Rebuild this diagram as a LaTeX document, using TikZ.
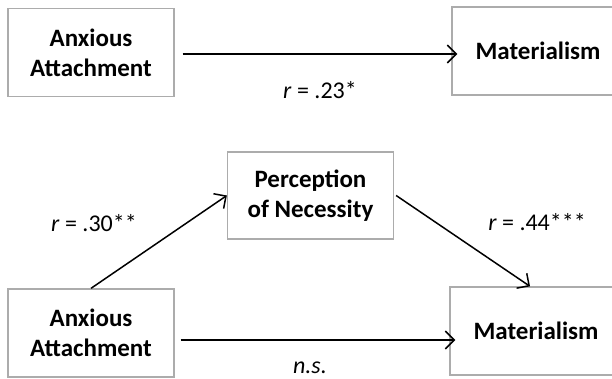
\documentclass[tikz,border=0pt]{standalone}
\usepackage{fontspec}
\setmainfont{Carlito}
\usetikzlibrary{arrows.meta}

\begin{document}
\begin{tikzpicture}[x=1pt, y=-1pt, >={Straight Barb[length=9pt,width=18pt]},
    box/.style={draw=gray!65, line width=1.3pt, minimum width=166pt,
                minimum height=88pt, inner sep=0pt, align=center,
                font=\fontsize{25}{30}\selectfont\bfseries},
    link/.style={->, line width=1.5pt},
    lbl/.style={font=\fontsize{24}{28}\selectfont}]
  \useasboundingbox (0,0) rectangle (612,379);
  % total effect
  \node[box] (anx1) at (91,52.5) {Anxious\\Attachment};
  \node[box, minimum width=172pt] (mat1) at (538,51) {Materialism};
  \draw[link] ([xshift=8pt,yshift=-1.5pt]anx1.east)
      -- ([xshift=6pt,yshift=-1.5pt]anx1.east -| mat1.west);
  \node[lbl] (r1) at (320,90) {\textit{r} = .23*};
  % mediation
  \node[box, minimum height=87pt] (pon) at (310.5,195.5) {Perception\\of Necessity};
  \node[box] (anx2) at (91,333) {Anxious\\Attachment};
  \node[box, minimum width=172pt] (mat2) at (536,331) {Materialism};
  \draw[link] (anx2.north) -- (pon.west);
  \draw[link] ([xshift=2pt]pon.east) -- ([xshift=-6pt]mat2.north);
  \draw[link] ([xshift=6pt,yshift=-7pt]anx2.east)
      -- ([xshift=6pt,yshift=-7pt]anx2.east -| mat2.west);
  \node[lbl] (r2) at (94,223) {\textit{r} = .30**};
  \node[lbl] (r3) at (537,222) {\textit{r} = .44***};
  \node[lbl] (ns) at (310,368) {\textit{n.s.}};
\end{tikzpicture}
\end{document}
